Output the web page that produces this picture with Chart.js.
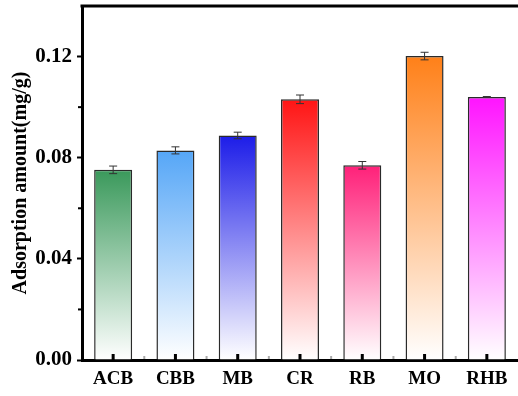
<!DOCTYPE html>
<html>
<head>
<meta charset="utf-8">
<script src="https://cdn.jsdelivr.net/npm/chart.js@4.4.1/dist/chart.umd.min.js"></script>
<style>
  html, body { margin: 0; padding: 0; background: #fff; }
  #wrap { width: 518px; height: 396px; position: relative; }
</style>
</head>
<body>
<div id="wrap"><canvas id="chart"></canvas></div>
<script>
// ── Data ──────────────────────────────────────────────
const dyes = ['ACB', 'CBB', 'MB', 'CR', 'RB', 'MO', 'RHB'];
const amounts = [0.0752, 0.0829, 0.0888, 0.1031, 0.0770, 0.1202, 0.1040];
const errors = [0.0015, 0.0014, 0.0013, 0.0017, 0.0015, 0.0015, 0.0002];
const barColors = ['#3a995b', '#55a6f7', '#1c1ce8', '#ff1414', '#ff2079', '#ff8018', '#ff14ff'];
const yTicks = [0, 0.04, 0.08, 0.12];

const serif = "'Liberation Serif', 'Times New Roman', serif";

// vertical fade: dye colour at the top, white at the base
function barFill(c) {
    const chart = c.chart;
    const base = barColors[c.dataIndex];
    if (!chart.chartArea || c.type !== 'data') return base;
    const y = chart.scales.y;
    const top = y.getPixelForValue(amounts[c.dataIndex]);
    const bottom = y.getPixelForValue(0);
    const g = chart.ctx.createLinearGradient(0, top, 0, bottom);
    g.addColorStop(0, base);
    g.addColorStop(1, '#ffffff');
    return g;
}

// ── Error bars, frame and minor ticks ──────────────────
const decor = {
    id: 'decor',
    afterDatasetsDraw(chart) {
        const { ctx, scales: { x, y } } = chart;
        ctx.save();
        ctx.strokeStyle = '#333';
        ctx.lineWidth = 1;
        amounts.forEach((v, i) => {
            const cx = x.getPixelForValue(i);
            const hi = y.getPixelForValue(v + errors[i]);
            const lo = y.getPixelForValue(v - errors[i]);
            ctx.beginPath();
            ctx.moveTo(cx, hi); ctx.lineTo(cx, lo);
            ctx.moveTo(cx - 4, hi); ctx.lineTo(cx + 4, hi);
            ctx.moveTo(cx - 4, lo); ctx.lineTo(cx + 4, lo);
            ctx.stroke();
        });
        ctx.restore();
    },
    afterDraw(chart) {
        const { ctx, chartArea: a, scales: { x, y } } = chart;
        ctx.save();
        ctx.fillStyle = '#000';
        // top frame line
        ctx.fillRect(a.left - 1.5, a.top - 1.5, a.right - a.left + 3, 3);
        // major x ticks, pointing inward
        dyes.forEach((d, i) => {
            const cx = x.getPixelForValue(i);
            ctx.fillRect(cx - 1.5, a.bottom - 6, 3, 6);
        });
        // minor y ticks, outward
        for (let i = 1; i < yTicks.length; i++) {
            const py = y.getPixelForValue((yTicks[i - 1] + yTicks[i]) / 2);
            ctx.fillRect(a.left - 4, py - 1, 3, 2);
        }
        // minor x ticks between categories
        ctx.fillStyle = '#aaa';
        for (let i = 1; i < dyes.length; i++) {
            const bx = (x.getPixelForValue(i - 1) + x.getPixelForValue(i)) / 2;
            ctx.fillRect(bx - 1, a.bottom - 4, 2, 3);
        }
        ctx.restore();
    }
};

new Chart(document.getElementById('chart'), {
    type: 'bar',
    data: {
        labels: dyes,
        datasets: [{
            data: amounts,
            backgroundColor: barFill,
            borderColor: '#2a2a2a',
            borderWidth: 1.5,
            barPercentage: 0.61,
            categoryPercentage: 1
        }]
    },
    options: {
        responsive: true,
        maintainAspectRatio: false,
        animation: false,
        layout: { padding: { top: 6, right: 0, bottom: 0, left: 0 } },
        plugins: { legend: { display: false }, tooltip: { enabled: false } },
        scales: {
            x: {
                z: 1,
                grid: { display: false, drawTicks: false },
                border: { display: true, color: '#000', width: 3 },
                ticks: { color: '#000', padding: 8, font: { family: serif, size: 19, weight: 'bold' } },
                afterFit(s) { s.height = 36; s.paddingLeft = 0; s.paddingRight = 0; }
            },
            y: {
                z: 1,
                min: 0,
                max: 0.14,
                afterBuildTicks(s) { s.ticks = yTicks.map(v => ({ value: v })); },
                grid: { drawOnChartArea: false, drawTicks: true, tickLength: 5, tickWidth: 2, tickColor: '#000' },
                border: { display: true, color: '#000', width: 3 },
                ticks: {
                    color: '#000',
                    padding: 5,
                    font: { family: serif, size: 21, weight: 'bold' },
                    callback: v => v.toFixed(2)
                },
                title: {
                    display: true,
                    text: 'Adsorption amount(mg/g)',
                    color: '#000',
                    padding: { top: 9, bottom: 0 },
                    font: { family: serif, size: 20, weight: 'bold' }
                },
                afterFit(s) { s.width = 82; s.paddingTop = 0; s.paddingBottom = 0; }
            }
        }
    },
    plugins: [decor]
});
</script>
</body>
</html>
